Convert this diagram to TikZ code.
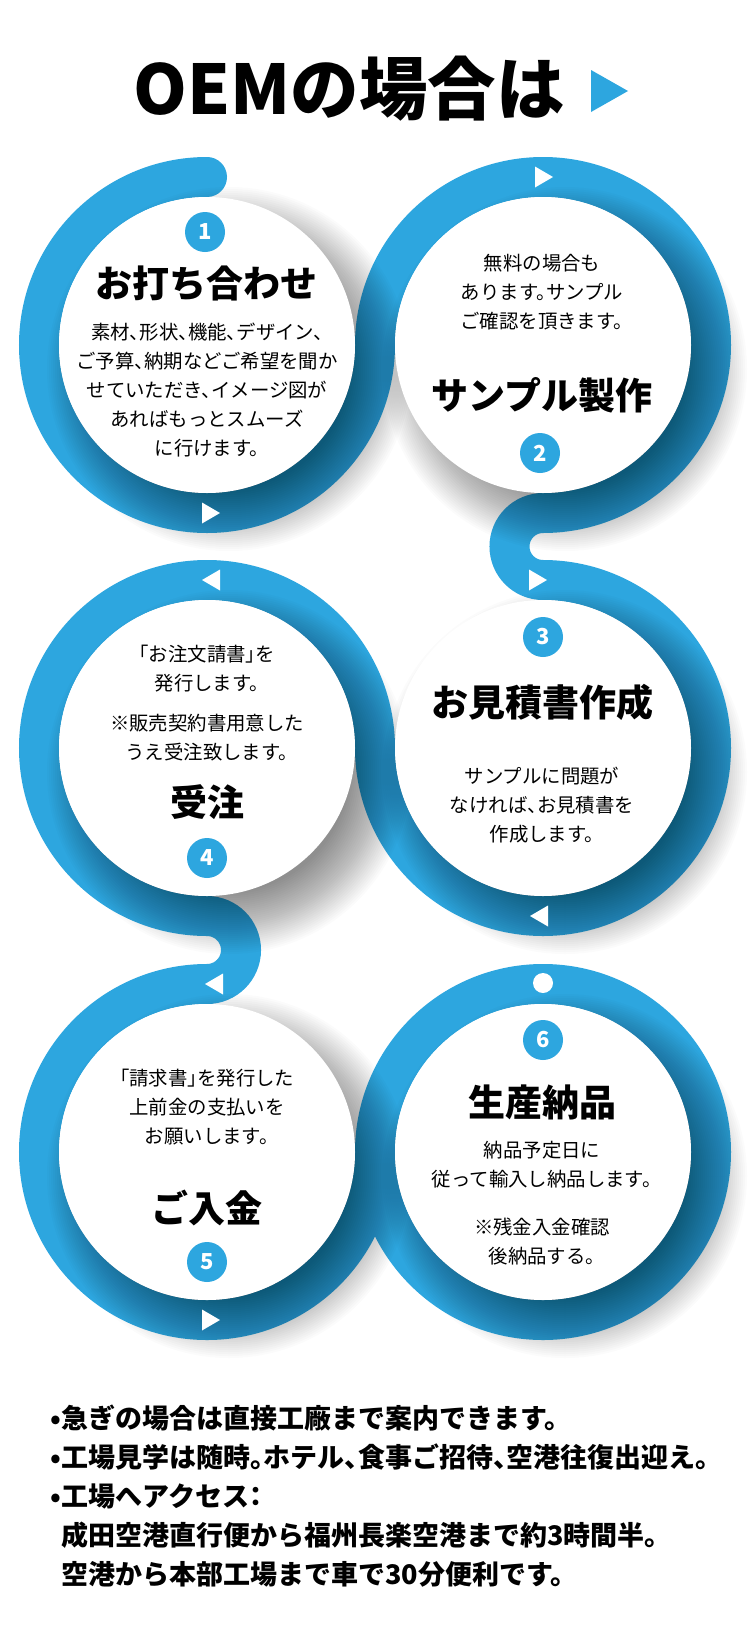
\documentclass[tikz,border=0pt]{standalone}
\usepackage{fontspec}
\setmainfont{Noto Sans CJK JP}[RawFeature=+halt]
\newfontfamily\heavy{Noto Sans CJK JP Black}[RawFeature=+halt]
\usetikzlibrary{calc}
\definecolor{flowblue}{HTML}{2DA6DF}

\begin{document}
\begin{tikzpicture}[
    x=1pt, y=1pt,
    band/.style={line width=40pt, draw=flowblue, line cap=round},
    disc/.style={circle, fill=white, minimum size=296pt, inner sep=0pt},
    badge/.style={circle, fill=flowblue, text=white, minimum size=40pt, inner sep=0pt,
        font=\fontsize{22}{22}\selectfont\bfseries},
    head/.style={font=\fontsize{37}{40}\selectfont\heavy},
    body/.style={align=center, font=\fontsize{19.4}{29}\selectfont},
    fwdtip/.pic={\fill[white] (-8,10.5) -- (10,0) -- (-8,-10.5) -- cycle;},
    backtip/.pic={\fill[white] (8,10.5) -- (-10,0) -- (8,-10.5) -- cycle;}
]
  \useasboundingbox (0,0) rectangle (750,-1638);
  \fill[white] (0,0) rectangle (750,-1638);

  % title
  \node[font=\fontsize{68.5}{72}\selectfont\heavy] (title) at (349,-89) {OEMの場合は};
  \fill[flowblue] (591,-70) -- (628,-91) -- (591,-112) -- cycle;

  % circle centres
  \coordinate (c1) at (207,-345);
  \coordinate (c2) at (543,-345);
  \coordinate (c3) at (543,-748);
  \coordinate (c4) at (207,-748);
  \coordinate (c5) at (207,-1152);
  \coordinate (c6) at (543,-1152);

  % the band, one stroke from 1 to 6
  \draw[band] ($(c1)+(0,168)$)
      arc[start angle=90, end angle=360, radius=168]
      arc[start angle=180, end angle=-90, radius=168]
      arc[start angle=90, end angle=270, radius=33.5]
      arc[start angle=90, end angle=-180, radius=168]
      arc[start angle=0, end angle=270, radius=168]
      arc[start angle=90, end angle=-90, radius=34]
      arc[start angle=90, end angle=360, radius=168]
      arc[start angle=180, end angle=-180, radius=168];

  % soft shadows under the discs
  \foreach \c in {c1,c2,c3,c4,c5,c6}
    \foreach \r in {120,122,...,182}
      \fill[black, opacity=0.016] ($(\c)+(22,-24)$) circle[radius=\r];

  \foreach \i in {1,...,6}
    \node[disc] (d\i) at (c\i) {};

  % direction marks on the band
  \pic at (210,-513) {fwdtip};
  \pic at (543,-177) {fwdtip};
  \pic at (537,-580) {fwdtip};
  \pic at (540,-916) {backtip};
  \pic at (212,-580) {backtip};
  \pic at (215,-984) {backtip};
  \pic at (210,-1320) {fwdtip};
  \node[circle, fill=white, minimum size=20pt, inner sep=0pt] (stop) at (543,-983) {};

  % step 1
  \node[badge] (n1) at (205,-232) {1};
  \node[head] (h1) at (206,-283) {お打ち合わせ};
  \node[body] (b1) at (207,-390) {素材、形状、機能、デザイン、\\ご予算、納期などご希望を聞か\\せていただき、イメージ図が\\あればもっとスムーズ\\に行けます。};

  % step 2
  \node[body] (b2) at (542,-292) {無料の場合も\\あります。サンプル\\ご確認を頂きます。};
  \node[head] (h2) at (542,-395) {サンプル製作};
  \node[badge] (n2) at (540,-453) {2};

  % step 3
  \node[badge] (n3) at (543,-637) {3};
  \node[head] (h3) at (542,-702) {お見積書作成};
  \node[body] (b3) at (542,-805) {サンプルに問題が\\なければ、お見積書を\\作成します。};

  % step 4
  \node[body] (b4) at (207,-669) {「お注文請書」を\\発行します。};
  \node[body] (b4x) at (207,-738) {※販売契約書用意した\\うえ受注致します。};
  \node[head] (h4) at (207,-802) {受注};
  \node[badge] (n4) at (207,-858) {4};

  % step 5
  \node[body] (b5) at (207,-1107) {「請求書」を発行した\\上前金の支払いを\\お願いします。};
  \node[head] (h5) at (207,-1208) {ご入金};
  \node[badge] (n5) at (207,-1262) {5};

  % step 6
  \node[badge] (n6) at (543,-1040) {6};
  \node[head] (h6) at (542,-1102) {生産納品};
  \node[body] (b6) at (542,-1165) {納品予定日に\\従って輸入し納品します。};
  \node[body] (b6x) at (542,-1242) {※残金入金確認\\後納品する。};

  % notes
  \node[anchor=west, align=left, font=\fontsize{27}{39}\selectfont\heavy] (notes) at (47,-1496)
    {•急ぎの場合は直接工廠まで案内できます。\\
     •工場見学は随時。ホテル、食事ご招待、空港往復出迎え。\\
     •工場へアクセス：\\
     \phantom{•}成田空港直行便から福州長楽空港まで約3時間半。\\
     \phantom{•}空港から本部工場まで車で30分便利です。};
\end{tikzpicture}
\end{document}
